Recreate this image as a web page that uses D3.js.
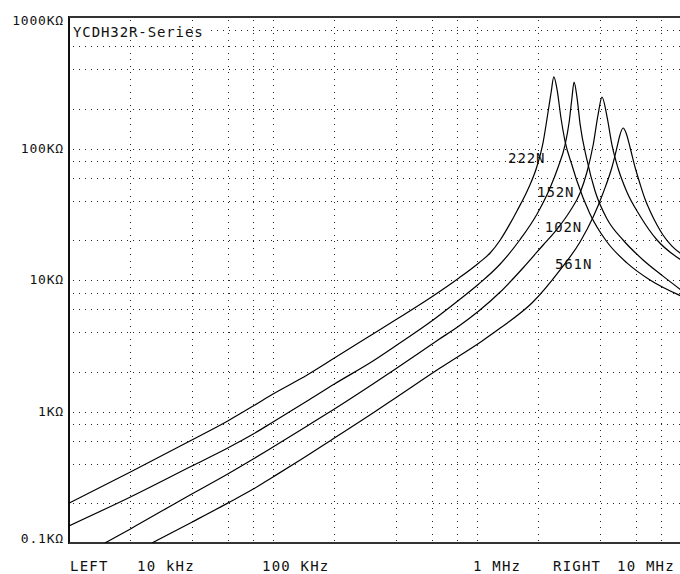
<!DOCTYPE html>
<html>
<head>
<meta charset="utf-8">
<script src="https://cdn.jsdelivr.net/npm/d3@7/dist/d3.min.js"></script>
<style>
  html, body { margin: 0; padding: 0; background: #fff; }
  svg { display: block; }
  text { font-family: "DejaVu Sans Mono", "Liberation Mono", monospace; fill: #111; }
</style>
</head>
<body>
<svg id="chart" width="680" height="574"></svg>
<script>
// ---------------- data ----------------
const title = "YCDH32R-Series";
const seriesNames = ["222N", "152N", "102N", "561N"];

// frequency (Hz) / impedance (kΩ)
const freq222 = [1e4, 2e4, 4e4, 6e4, 8e4, 1e5, 1.47e5, 2e5, 3.09e5, 4.05e5, 6.09e5, 8.16e5, 1.02e6, 1.16e6, 1.30e6, 1.45e6, 1.57e6, 1.78e6, 1.97e6, 2.11e6, 2.23e6, 2.31e6, 2.38e6, 2.47e6, 2.58e6, 2.70e6, 2.92e6, 3.09e6, 3.58e6, 4.34e6, 5.43e6, 7.05e6, 1e7];
const z222    = [0.201, 0.347, 0.607, 0.847, 1.101, 1.359, 1.895, 2.55, 3.886, 5.05, 7.56, 10.36, 13.47, 16.04, 20.15, 26.7, 33.5, 49.2, 73.6, 112, 189.5, 269, 350, 279, 170.6, 114, 74.9, 56.6, 31.8, 19.45, 13.5, 10.0, 7.56];

const freq152 = [1e4, 2e4, 4e4, 6e4, 8e4, 1e5, 1.47e5, 2e5, 3.09e5, 4.05e5, 6.09e5, 8.16e5, 1.02e6, 1.30e6, 1.62e6, 1.97e6, 2.28e6, 2.50e6, 2.70e6, 2.83e6, 2.92e6, 2.99e6, 3.09e6, 3.20e6, 3.46e6, 3.79e6, 4.34e6, 5.20e6, 6.52e6, 8.16e6, 1e7];
const z152    = [0.135, 0.224, 0.385, 0.528, 0.674, 0.832, 1.202, 1.619, 2.421, 3.204, 4.964, 7.05, 9.32, 13.23, 20.15, 31.8, 50.1, 72.3, 106, 159, 242, 320, 246, 154, 81.8, 47.5, 29.1, 20.15, 14.2, 10.7, 8.4];

const freq102 = [1.5e4, 2e4, 4e4, 6e4, 8e4, 1e5, 1.47e5, 2e5, 3.09e5, 4.05e5, 6.44e5, 8.16e5, 1.02e6, 1.30e6, 1.68e6, 2.11e6, 2.47e6, 2.86e6, 3.20e6, 3.46e6, 3.71e6, 3.92e6, 4.10e6, 4.34e6, 4.59e6, 4.91e6, 5.43e6, 6.30e6, 7.63e6, 1e7];
const z102    = [0.1, 0.128, 0.236, 0.335, 0.435, 0.537, 0.776, 1.045, 1.619, 2.142, 3.50, 4.47, 5.81, 8.10, 12.34, 18.46, 24.4, 33.5, 45.9, 66.3, 106.3, 180, 246, 174, 106.3, 71.1, 46.7, 30.7, 20.15, 14.2];

const freq561 = [2.55e4, 4e4, 6e4, 8e4, 1e5, 1.36e5, 2e5, 3.09e5, 4.05e5, 6.59e5, 1.06e6, 1.30e6, 1.88e6, 2.55e6, 3.20e6, 3.71e6, 4.15e6, 4.59e6, 4.86e6, 5.02e6, 5.20e6, 5.38e6, 5.62e6, 5.95e6, 6.30e6, 6.66e6, 7.05e6, 7.63e6, 8.16e6, 9.03e6, 1e7];
const z561    = [0.1, 0.144, 0.201, 0.257, 0.318, 0.428, 0.629, 0.974, 1.29, 2.14, 3.44, 4.31, 6.80, 11.9, 19.45, 30.1, 45.9, 72.3, 102.7, 126.7, 143.2, 131.2, 102.7, 72.3, 53.7, 41.3, 33.5, 26.2, 22.0, 18.1, 15.8];

// series label anchors (frequency Hz, impedance kΩ)
const labelFreq = [1.42e6, 1.97e6, 2.15e6, 2.41e6];
const labelZ    = [77.6, 42.8, 23.2, 12.1];

// axes
const freqDecades = [1e4, 1e5, 1e6, 1e7];
const zDecades = [0.1, 1, 10, 100, 1000];
const gridMultipliers = [2, 4, 6, 8];
const yTickValues = [1000, 100, 10, 1, 0.1];
const yTickLabels = ["1000KΩ", "100KΩ", "10KΩ", "1KΩ", "0.1KΩ"];
const bottomLabels = ["LEFT", "10 kHz", "100 KHz", "1 MHz", "RIGHT", "10 MHz"];

// ---------------- layout ----------------
const L = 69, R = 681, T = 17, B = 543;
const svg = d3.select("#chart");
const x = d3.scaleLog().domain([1e4, 1e7]).range([L, R]);
const y = d3.scaleLog().domain([0.1, 1000]).range([B, T]);

const dotStyle = g => g.attr("stroke", "#222").attr("stroke-width", 1)
  .attr("shape-rendering", "crispEdges");

const xGrid = [];
freqDecades.forEach(d => {
  if (d > 1e4 && d < 1e7) xGrid.push(d);
  gridMultipliers.forEach(m => { if (d * m < 1e7) xGrid.push(d * m); });
});
const yGrid = [];
zDecades.forEach(d => {
  if (d > 0.1 && d < 1000) yGrid.push(d);
  gridMultipliers.forEach(m => { if (d * m < 1000) yGrid.push(d * m); });
});

// horizontal grid
svg.append("g").selectAll("line").data(yGrid).join("line")
  .attr("x1", L + 4).attr("x2", 680)
  .attr("y1", d => Math.round(y(d)) + 0.5).attr("y2", d => Math.round(y(d)) + 0.5)
  .attr("stroke-dasharray", "1,5")
  .call(dotStyle);

// title background
svg.append("rect").attr("x", L + 2).attr("y", 26).attr("width", 138).attr("height", 13).attr("fill", "#fff");

// vertical grid
svg.append("g").selectAll("line").data(xGrid).join("line")
  .attr("x1", d => Math.round(x(d)) + 0.5).attr("x2", d => Math.round(x(d)) + 0.5)
  .attr("y1", T + 3).attr("y2", B - 2)
  .attr("stroke-dasharray", "1,5.5")
  .call(dotStyle);

svg.append("text").attr("x", L + 4).attr("y", 37)
  .attr("font-size", 14).attr("letter-spacing", 0.9).text(title);

// frame
svg.append("line").attr("x1", L).attr("x2", L).attr("y1", T - 1).attr("y2", B + 1)
  .attr("stroke", "#111").attr("stroke-width", 2);
svg.append("line").attr("x1", L).attr("x2", 680).attr("y1", T).attr("y2", T)
  .attr("stroke", "#333").attr("stroke-width", 2);
svg.append("line").attr("x1", L).attr("x2", 680).attr("y1", B).attr("y2", B)
  .attr("stroke", "#333").attr("stroke-width", 2);

// curves
svg.append("clipPath").attr("id", "clip").append("rect")
  .attr("x", L).attr("y", T).attr("width", 680 - L).attr("height", B - T);

const series = [
  { name: seriesNames[0], f: freq222, z: z222 },
  { name: seriesNames[1], f: freq152, z: z152 },
  { name: seriesNames[2], f: freq102, z: z102 },
  { name: seriesNames[3], f: freq561, z: z561 }
];
const line = d3.line().x(d => x(d[0])).y(d => y(d[1])).curve(d3.curveMonotoneX);
svg.append("g").attr("clip-path", "url(#clip)").selectAll("path").data(series).join("path")
  .attr("d", s => line(s.f.map((f, i) => [f, s.z[i]])))
  .attr("fill", "none").attr("stroke", "#000").attr("stroke-width", 1.2);

// series labels
svg.append("g").selectAll("text").data(seriesNames).join("text")
  .attr("x", (d, i) => x(labelFreq[i]))
  .attr("y", (d, i) => y(labelZ[i]))
  .attr("font-size", 14).attr("letter-spacing", 0.9)
  .text(d => d);

// y tick labels
svg.append("g").selectAll("text").data(yTickValues).join("text")
  .attr("x", L - 5)
  .attr("y", d => Math.min(Math.max(y(d) + 4, T + 8), B))
  .attr("text-anchor", "end")
  .attr("font-size", 13).attr("letter-spacing", 0.8)
  .text((d, i) => yTickLabels[i]);

// bottom labels (instrument annotation row)
const bottomX = [70, 137, 262, 473, 553, 617];
svg.append("g").selectAll("text").data(bottomLabels).join("text")
  .attr("x", (d, i) => bottomX[i])
  .attr("y", 571)
  .attr("font-size", 14).attr("letter-spacing", 1.2)
  .text(d => d);
</script>
</body>
</html>
